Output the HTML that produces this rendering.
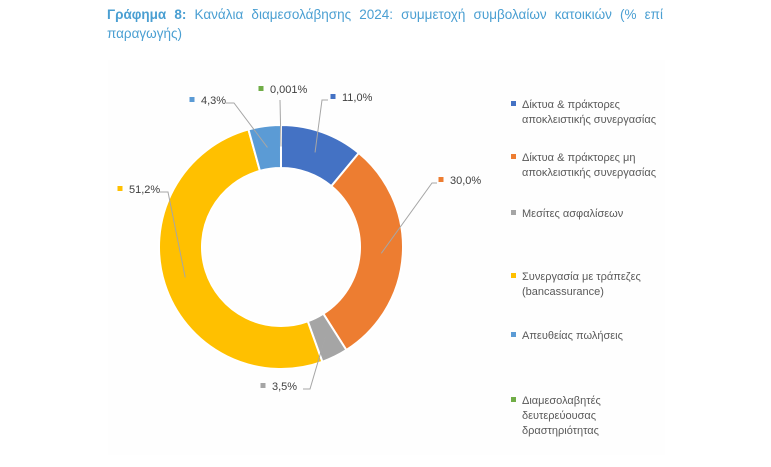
<!DOCTYPE html>
<html><head><meta charset="utf-8"><style>
body{margin:0;background:#fff;width:771px;height:467px;overflow:hidden;font-family:"Liberation Sans","DejaVu Sans",sans-serif;}
#title{position:absolute;left:107px;top:5px;width:556px;font-size:13.5px;line-height:19px;color:#4a9fd2;text-align:justify;text-align-last:left;}
#title b{font-weight:bold;}
svg{position:absolute;left:0;top:0;}
</style></head><body>
<div id="title"><b>Γράφημα 8:</b> Κανάλια διαμεσολάβησης 2024: συμμετοχή συμβολαίων κατοικιών (% επί παραγωγής)</div>
<svg id="chart" width="771" height="467">
<rect x="108" y="60" width="557" height="395" fill="#fefefe"/>
<g id="slices"></g><g id="labels"></g><g id="legend"></g>
</svg>
<script>
const categories=["Δίκτυα & πράκτορες|αποκλειστικής συνεργασίας","Δίκτυα & πράκτορες μη|αποκλειστικής συνεργασίας","Μεσίτες ασφαλίσεων","Συνεργασία με τράπεζες|(bancassurance)","Απευθείας πωλήσεις","Διαμεσολαβητές|δευτερεύουσας|δραστηριότητας"];
const values=[11.0,30.0,3.5,51.2,4.3,0.001];
const valueLabels=["11,0%","30,0%","3,5%","51,2%","4,3%","0,001%"];
const colors=["#4472c4","#ed7d31","#a5a5a5","#ffc000","#5b9bd5","#70ad47"];
const NS="http://www.w3.org/2000/svg";
const cx=281,cy=247,R=122,r=79;
const total=values.reduce((a,b)=>a+b,0);
function pt(a,rad){return [cx+rad*Math.sin(a),cy-rad*Math.cos(a)];}
const sg=document.getElementById('slices'),lg=document.getElementById('labels'),leg=document.getElementById('legend');
const labPos=[[333,100],[441,183],[263,389],[120,192],[192,103],[261,92]];
const elbow=[[322,100],[432,183],[310,389],[168,192],[234,103],[280,100]];
const lineEnd=[[328,100],[437,183],[303,389],[160,192],[226,103],[280,100]];
let acc=0;
values.forEach((v,i)=>{
  const a0=acc/total*2*Math.PI; acc+=v; const a1=acc/total*2*Math.PI;
  const large=(a1-a0)>Math.PI?1:0;
  const p0=pt(a0,R),p1=pt(a1,R),q1=pt(a1,r),q0=pt(a0,r);
  const p=document.createElementNS(NS,'path');
  p.setAttribute('d',`M${p0} A${R},${R} 0 ${large} 1 ${p1} L${q1} A${r},${r} 0 ${large} 0 ${q0} Z`);
  p.setAttribute('fill',colors[i]);p.setAttribute('stroke','#fff');p.setAttribute('stroke-width','2');
  
  
  sg.appendChild(p);
  const am=(a0+a1)/2, m=pt(am,(R+r)/2);
  const l=document.createElementNS(NS,'polyline');
  l.setAttribute('points',`${m} ${elbow[i]} ${lineEnd[i]}`);
  l.setAttribute('fill','none');l.setAttribute('stroke','#a6a6a6');l.setAttribute('stroke-width','1');
  
  
  lg.appendChild(l);
  const [lx,ly]=labPos[i];
  const mk=document.createElementNS(NS,'rect');
  mk.setAttribute('x',lx-2.5);mk.setAttribute('y',ly-6);mk.setAttribute('width',5);mk.setAttribute('height',5);mk.setAttribute('fill',colors[i]);
  
  
  lg.appendChild(mk);
  const t=document.createElementNS(NS,'text');
  t.setAttribute('x',lx+9);t.setAttribute('y',ly+1);t.setAttribute('font-size','11');t.setAttribute('fill','#404040');
  t.textContent=valueLabels[i];
  
  
  lg.appendChild(t);
});
const legY=[107,160,216,279,338,403];
categories.forEach((c,i)=>{
  const g=document.createElementNS(NS,'g');
  
  
  const mk=document.createElementNS(NS,'rect');
  mk.setAttribute('x',511);mk.setAttribute('y',legY[i]-6);mk.setAttribute('width',5);mk.setAttribute('height',5);mk.setAttribute('fill',colors[i]);
  g.appendChild(mk);
  c.split('|').forEach((line,j)=>{
    const t=document.createElementNS(NS,'text');
    t.setAttribute('x',522);t.setAttribute('y',legY[i]+j*15+1);t.setAttribute('font-size','11');t.setAttribute('fill','#595959');
    t.textContent=line;g.appendChild(t);
  });
  leg.appendChild(g);
});
</script>
</body></html>
